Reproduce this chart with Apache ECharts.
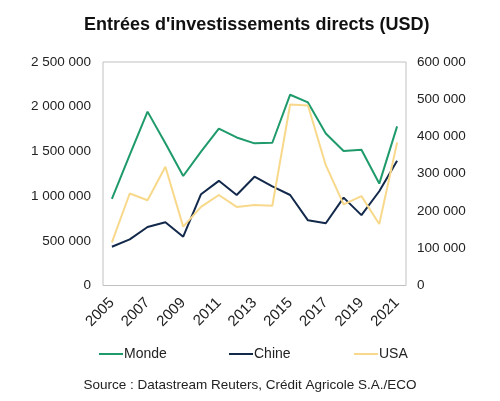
<!DOCTYPE html>
<html><head><meta charset="utf-8">
<script src="https://cdn.jsdelivr.net/npm/echarts@6/dist/echarts.min.js"></script>
<style>html,body{margin:0;padding:0;background:#fff}#c{width:500px;height:401px}</style>
</head><body><div id="c"></div>
<script>
var years = ['2005','2006','2007','2008','2009','2010','2011','2012','2013','2014','2015','2016','2017','2018','2019','2020','2021'];
var monde = [968000,1460000,1945000,1590000,1225000,1497000,1754000,1656000,1590000,1597000,2134000,2048000,1700000,1505000,1518000,1140000,1780000];
var chine = [104000,124000,157000,170000,131000,245000,281000,243000,292000,266000,243000,175000,167000,236000,189000,253000,335000];
var usa = [116000,247000,229000,319000,158000,211000,243000,211000,216000,214000,486000,483000,323000,218000,240000,165000,384000];
var leftTicks = {min:0,max:2500000,interval:500000};
var rightTicks = {min:0,max:600000,interval:100000};

function fmt(v){return String(v).replace(/\B(?=(\d{3})+(?!\d))/g,' ');}
var FONT='Liberation Sans, Arial, sans-serif';
var chart = echarts.init(document.getElementById('c'));
function leg(name,left,color){
  return {data:[{name:name,icon:'rect'}],left:left,top:342,itemWidth:24,itemHeight:2,itemGap:0,
    textStyle:{fontFamily:FONT,fontSize:14,color:'#222',padding:[0,0,0,-4]},itemStyle:{color:color}};
}
chart.setOption({
  animation:false,
  title:[{text:"Entrées d'investissements directs (USD)",left:79,top:11,
    textStyle:{fontFamily:FONT,fontSize:18,fontWeight:'bold',color:'#111'}},
    {text:'Source : Datastream Reuters, Crédit Agricole S.A./ECO',left:'center',top:373,
    textStyle:{fontFamily:FONT,fontSize:13.5,fontWeight:'normal',color:'#222'}}],
  legend:[leg('Monde',94,'#1e9a6b'),leg('Chine',224,'#13294b'),leg('USA',349,'#f8d98c')],
  grid:{left:103,right:94,top:62,bottom:115.5,show:true,borderColor:'#c0c0c0',borderWidth:1},
  xAxis:{type:'category',data:years,boundaryGap:true,
    axisLine:{show:false},axisTick:{show:false},
    axisLabel:{interval:1,rotate:45,fontFamily:FONT,fontSize:15,color:'#222',margin:15}},
  yAxis:[{type:'value',min:leftTicks.min,max:leftTicks.max,interval:leftTicks.interval,
      splitLine:{show:false},axisLine:{show:false},axisTick:{show:false},
      axisLabel:{formatter:fmt,fontFamily:FONT,fontSize:13.5,color:'#222',margin:12}},
    {type:'value',min:rightTicks.min,max:rightTicks.max,interval:rightTicks.interval,
      splitLine:{show:false},axisLine:{show:false},axisTick:{show:false},
      axisLabel:{formatter:fmt,fontFamily:FONT,fontSize:13.5,color:'#222',margin:11}}],
  series:[
    {name:'Monde',type:'line',yAxisIndex:0,data:monde,symbol:'none',lineStyle:{color:'#1e9a6b',width:2},itemStyle:{color:'#1e9a6b'}},
    {name:'Chine',type:'line',yAxisIndex:1,data:chine,symbol:'none',lineStyle:{color:'#13294b',width:2},itemStyle:{color:'#13294b'}},
    {name:'USA',type:'line',yAxisIndex:1,data:usa,symbol:'none',lineStyle:{color:'#f8d98c',width:2},itemStyle:{color:'#f8d98c'}}
  ]
});
</script></body></html>
